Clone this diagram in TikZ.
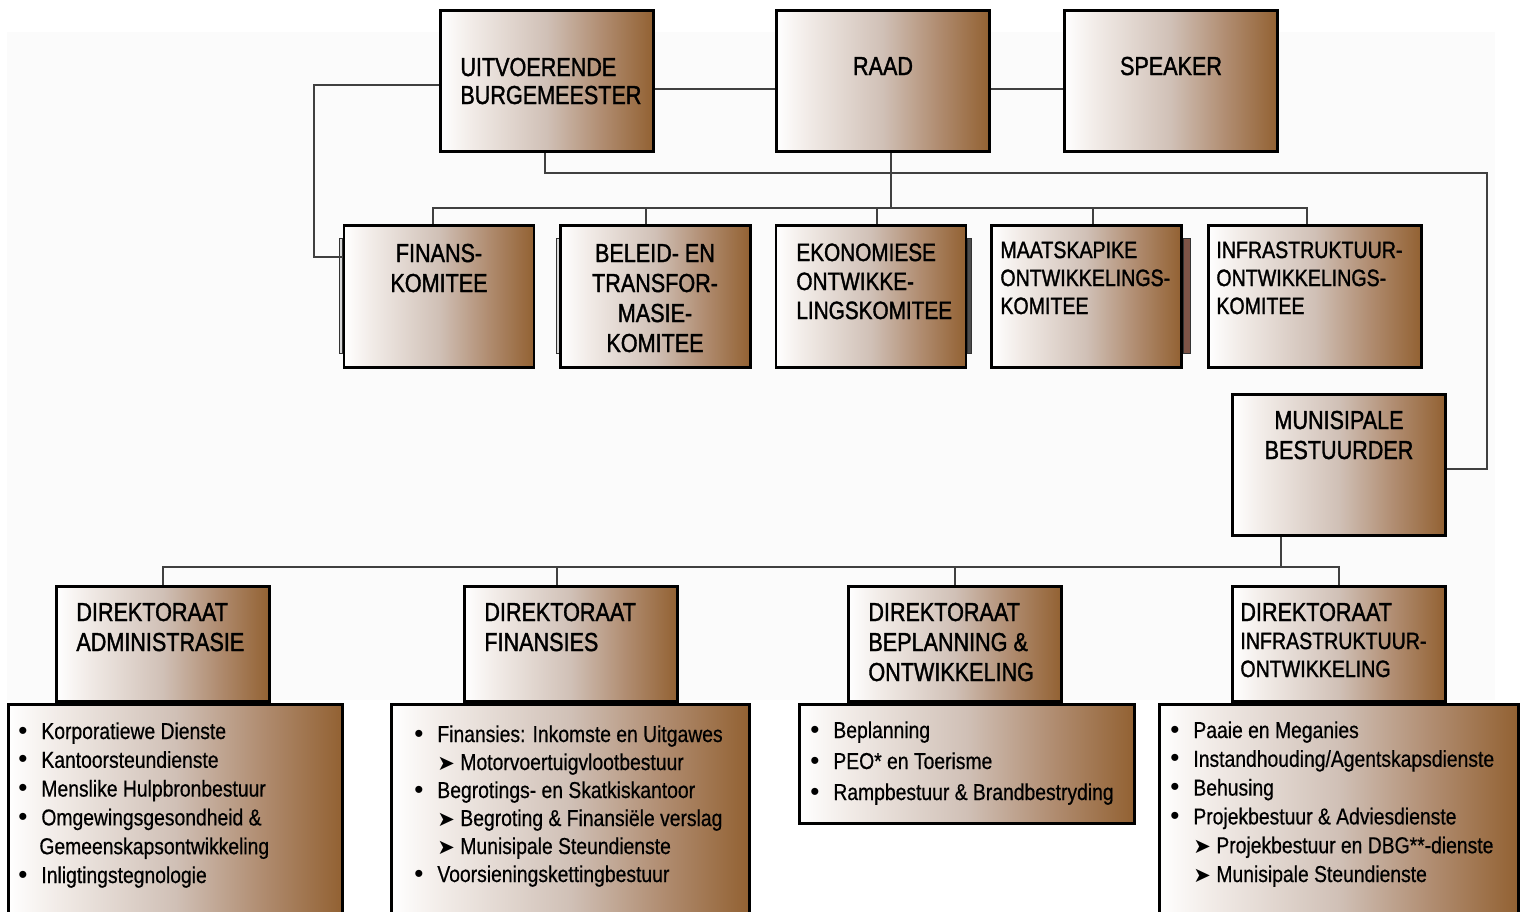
\documentclass[tikz,border=0pt]{standalone}
\usepackage{fontspec}
\setmainfont{Liberation Sans}[FakeStretch=0.84, FakeBold=0.6]
\newfontfamily\headfont{Liberation Sans}[FakeStretch=0.83, FakeBold=1.4]
\newfontfamily\plainfont{Liberation Sans}
\newfontfamily\dingfont{DejaVu Sans}
\usetikzlibrary{calc}

\definecolor{fadeA}{RGB}{242,236,232}
\definecolor{fadeB}{RGB}{208,192,182}
\definecolor{fadeC}{RGB}{176,140,112}
\definecolor{fadeD}{RGB}{146,97,50}
\definecolor{linkgray}{RGB}{64,64,64}
\pgfdeclarehorizontalshading{brownfade}{100bp}{color(0bp)=(white); color(25bp)=(white); color(32bp)=(fadeA); color(50bp)=(fadeB); color(63bp)=(fadeC); color(75bp)=(fadeD); color(100bp)=(fadeD)}

\newcommand{\rows}[2][l]{\begin{tabular}[t]{@{}#1@{}}#2\end{tabular}}
\newcommand{\bul}{\makebox[11.5pt][l]{\plainfont\fontsize{13}{13}\selectfont •}}
\newcommand{\arr}{\makebox[11.5pt][l]{\dingfont\fontsize{10.5}{13}\selectfont ➤}}
\newcommand{\gap}{\hspace*{11.5pt}}

\begin{document}
\begin{tikzpicture}[x=0.5pt, y=-0.5pt,
    unit/.style={draw=black, line width=1.4pt, shade, shading=brownfade, inner sep=0pt},
    wide/.style={unit, minimum width=106.5pt},
    narrow/.style={unit, minimum width=95pt},
    list/.style={unit, anchor=north west},
    link/.style={draw=linkgray, line width=1pt},
    title/.style={inner sep=0pt, font=\headfont\fontsize{13}{15}\selectfont},
    small/.style={inner sep=0pt, font=\headfont\fontsize{11.8}{14}\selectfont},
    item/.style={inner sep=0pt, anchor=base west, font=\fontsize{11.5}{14.4}\selectfont},
    sidebar/.style={draw=black!80, line width=0.5pt}]
    \useasboundingbox (0,0) rectangle (1527,911);
    \clip (0,0) rectangle (1527,911);
    \fill[black!1.5] (7,32) rectangle (1495,700);

    % Coordinates for the connector corners
    \coordinate (loop) at (314,257);
    \coordinate (rtop) at (1487,173);
    \coordinate (cbus) at (891,208);
    \coordinate (dbus) at (1281,567);

    % Edge strips beside some committees
    \draw[sidebar, fill=gray!30] (339,238) rectangle (342,353);
    \draw[sidebar, fill=gray!30] (556,238) rectangle (559,353);
    \draw[sidebar, fill=black!70] (967,238) rectangle (971,353);
    \draw[sidebar, fill={rgb,255:red,125;green,83;blue,70}] (1183,238) rectangle (1190,353);

    % Top row
    \node[wide, minimum height=70.5pt] (ub) at (547,81) {};
    \node[wide, minimum height=70.5pt] (raad) at (883,81) {};
    \node[wide, minimum height=70.5pt] (spk) at (1171,81) {};

    % Committees
    \node[narrow, minimum height=71pt] (fin) at (439,296.5) {};
    \node[narrow, minimum height=71pt] (bel) at (655.5,296.5) {};
    \node[narrow, minimum height=71pt] (eko) at (871,296.5) {};
    \node[narrow, minimum height=71pt] (maat) at (1086.5,296.5) {};
    \node[wide, minimum height=71pt] (inf) at (1315,296.5) {};

    % Municipal manager
    \node[wide, minimum height=70.5pt] (mb) at (1339,465) {};

    % Directorates
    \node[wide, minimum height=57.5pt] (dadm) at (163,644) {};
    \node[wide, minimum height=57.5pt] (dfin) at (571,644) {};
    \node[wide, minimum height=57.5pt] (dbep) at (955,644) {};
    \node[wide, minimum height=57.5pt] (dinf) at (1339,644) {};

    % Lists under the directorates
    \node[list, minimum width=167pt, minimum height=120pt] (ladm) at (7,703) {};
    \node[list, minimum width=179pt, minimum height=120pt] (lfin) at (390,703) {};
    \node[list, minimum width=167.5pt, minimum height=59.5pt] (lbep) at (798,703) {};
    \node[list, minimum width=179.5pt, minimum height=120pt] (linf) at (1158,703) {};

    % Connectors
    \draw[link] ([yshift=-2pt]ub.west) -| (loop) -- (loop -| fin.west);
    \draw[link] ([yshift=-4pt]ub.east) -- ([yshift=-4pt]raad.west);
    \draw[link] ([yshift=-4pt]raad.east) -- ([yshift=-4pt]spk.west);
    \draw[link] ([xshift=-1pt]ub.south) |- (rtop) |- ([yshift=-2pt]mb.east);
    \draw[link] ([xshift=4pt]raad.south) -- (cbus);
    \draw[link] ([xshift=-3pt]fin.north) |- (cbus) -| ([xshift=-4pt]inf.north);
    \foreach \n/\s in {bel/-5pt, eko/3pt, maat/3pt}
        \draw[link] ([xshift=\s]\n.north) -- ([xshift=\s]\n.north |- cbus);
    \draw[link] ([xshift=-29pt]mb.south) -- (dbus);
    \draw[link] (dadm.north) |- (dbus) -| (dinf.north);
    \draw[link] ([xshift=-7pt]dfin.north) -- ([xshift=-7pt]dfin.north |- dbus);
    \draw[link] (dbep.north) -- (dbep.north |- dbus);

    % Labels
    \node[title, anchor=base west, font=\headfont\fontsize{13}{14}\selectfont] (ub-t) at (460,76) {\rows{UITVOERENDE\\BURGEMEESTER}};
    \node[title, anchor=base] (raad-t) at (883,75) {RAAD};
    \node[title, anchor=base] (spk-t) at (1171,75) {SPEAKER};
    \node[title, anchor=base] (fin-t) at (439,262) {\rows[c]{FINANS-\\KOMITEE}};
    \node[title, anchor=base] (bel-t) at (655,262) {\rows[c]{BELEID- EN\\TRANSFOR-\\MASIE-\\KOMITEE}};
    \node[title, anchor=base west, font=\headfont\fontsize{12.5}{14.5}\selectfont] (eko-t) at (796,261) {\rows{EKONOMIESE\\ONTWIKKE-\\LINGSKOMITEE}};
    \node[small, anchor=base west] (maat-t) at (1000,258) {\rows{MAATSKAPIKE\\ONTWIKKELINGS-\\KOMITEE}};
    \node[small, anchor=base west] (inf-t) at (1216,258) {\rows{INFRASTRUKTUUR-\\ONTWIKKELINGS-\\KOMITEE}};
    \node[title, anchor=base] (mb-t) at (1339,429) {\rows[c]{MUNISIPALE\\BESTUURDER}};
    \node[title, anchor=base west] (dadm-t) at (76,621) {\rows{DIREKTORAAT\\ADMINISTRASIE}};
    \node[title, anchor=base west] (dfin-t) at (484,621) {\rows{DIREKTORAAT\\FINANSIES}};
    \node[title, anchor=base west] (dbep-t) at (868,621) {\rows{DIREKTORAAT\\BEPLANNING \&\\ONTWIKKELING}};
    \node[title, anchor=base west, font=\headfont\fontsize{13}{14}\selectfont] (dinf-t) at (1240,621) {\rows{DIREKTORAAT\\{\fontsize{11.8}{14}\selectfont INFRASTRUKTUUR-}\\{\fontsize{11.8}{14}\selectfont ONTWIKKELING}}};

    % List items
    \node[item] (ladm-t) at (18,739) {\rows{\bul Korporatiewe Dienste\\ \bul Kantoorsteundienste\\ \bul Menslike Hulpbronbestuur\\ \bul Omgewingsgesondheid \&\\ \hspace*{10.5pt}Gemeenskapsontwikkeling\\ \bul Inligtingstegnologie}};
    \node[item, font=\fontsize{11.5}{14}\selectfont] (lfin-t) at (414,742) {\rows{\bul Finansies: Inkomste en Uitgawes\\ \gap\arr Motorvoertuigvlootbestuur\\ \bul Begrotings- en Skatkiskantoor\\ \gap\arr Begroting \& Finansiële verslag\\ \gap\arr Munisipale Steundienste\\ \bul Voorsieningskettingbestuur}};
    \node[item, font=\fontsize{11.5}{15.5}\selectfont] (lbep-t) at (810,738) {\rows{\bul Beplanning\\ \bul PEO* en Toerisme\\ \bul Rampbestuur \& Brandbestryding}};
    \node[item] (linf-t) at (1170,738) {\rows{\bul Paaie en Meganies\\ \bul Instandhouding/Agentskapsdienste\\ \bul Behusing\\ \bul Projekbestuur \& Adviesdienste\\ \gap\arr Projekbestuur en DBG**-dienste\\ \gap\arr Munisipale Steundienste}};
\end{tikzpicture}
\end{document}
